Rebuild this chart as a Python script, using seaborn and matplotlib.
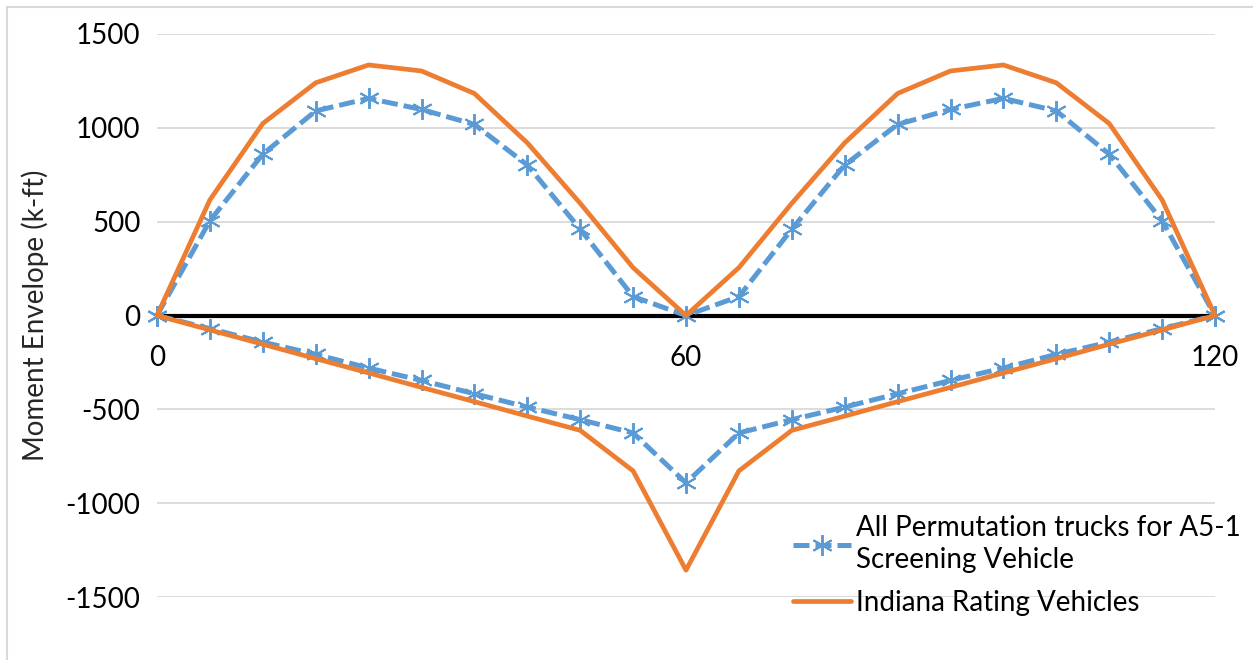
import numpy as np
import matplotlib
matplotlib.use('Agg')
import matplotlib.pyplot as plt
import seaborn as sns
from matplotlib.patches import Rectangle

# span position (ft), every 6 ft over two 60 ft spans
x_pos = [0, 6, 12, 18, 24, 30, 36, 42, 48, 54, 60,
         66, 72, 78, 84, 90, 96, 102, 108, 114, 120]

# All Permutation trucks for A5-1 Screening Vehicle
perm_max = [0, 505, 860, 1090, 1157, 1098, 1018, 802, 460, 101, 0,
            101, 460, 802, 1018, 1098, 1157, 1090, 860, 505, 0]
perm_min = [0, -70, -142, -207, -280, -346, -417, -488, -555, -626, -892,
            -626, -555, -488, -417, -346, -280, -207, -142, -70, 0]

# Indiana Rating Vehicles
ind_max = [0, 616, 1023, 1240, 1335, 1303, 1183, 920, 598, 255, 0,
           255, 598, 920, 1183, 1303, 1335, 1240, 1023, 616, 0]
ind_min = [0, -77, -153, -230, -306, -383, -459, -536, -612, -828, -1357,
           -828, -612, -536, -459, -383, -306, -230, -153, -77, 0]

blue = '#5B9BD5'
orange = '#ED7D31'

sns.set_style('white')
plt.rcParams['font.family'] = ['Lato', 'DejaVu Sans']
plt.rcParams['axes.unicode_minus'] = False

fig = plt.figure(figsize=(12.53, 6.6), dpi=100)
ax = fig.add_axes([157/1253, 63/660, 1058/1253, 563/660])

star = (6, 2, 0)
blue_kw = dict(color=blue, lw=3.6, linestyle=(0, (3.2, 1.2)), marker=star,
               markersize=15, markeredgewidth=1.4, markeredgecolor=blue,
               clip_on=False, zorder=3)
orange_kw = dict(color=orange, lw=3.4, clip_on=False, zorder=4)

sns.lineplot(x=x_pos, y=perm_max, ax=ax,
             label='All Permutation trucks for A5-1\nScreening Vehicle', **blue_kw)
sns.lineplot(x=x_pos, y=perm_min, ax=ax, **blue_kw)
sns.lineplot(x=x_pos, y=ind_max, ax=ax, label='Indiana Rating Vehicles', **orange_kw)
sns.lineplot(x=x_pos, y=ind_min, ax=ax, **orange_kw)

ax.set_xlim(0, 120)
ax.set_ylim(-1500, 1500)
ax.set_yticks([-1500, -1000, -500, 0, 500, 1000, 1500])
ax.set_xticks([0, 60, 120])
ax.grid(axis='y', color='#D9D9D9', lw=1.3)
ax.grid(axis='x', visible=False)

for s in ['top', 'right', 'left']:
    ax.spines[s].set_visible(False)
ax.spines['bottom'].set_position(('data', 0))
ax.spines['bottom'].set_color('black')
ax.spines['bottom'].set_linewidth(3)
ax.spines['bottom'].set_zorder(2)

ax.tick_params(axis='x', length=0, pad=21, labelsize=20, colors='black')
ax.tick_params(axis='y', length=0, pad=12, labelsize=20, colors='black')
ax.set_xlabel('')
ax.set_ylabel('Moment Envelope (k-ft)', fontsize=20, labelpad=12)

leg = ax.legend(loc='upper left', bbox_to_anchor=(793/1253, 1 - 515/660),
                bbox_transform=fig.transFigure, frameon=False, fontsize=20,
                handlelength=2.1, handletextpad=0.15, labelspacing=0.6,
                borderaxespad=0, borderpad=0)
for t in leg.get_texts():
    t.set_color('black')
    t.set_linespacing(1.3)

# chart border, Excel style
fig.patches.append(Rectangle((7/1253, -0.1), 1.2, 653/660 + 0.1,
                             transform=fig.transFigure, fill=False,
                             edgecolor='#D9D9D9', lw=1.5))

fig.savefig('out.png', dpi=100)
